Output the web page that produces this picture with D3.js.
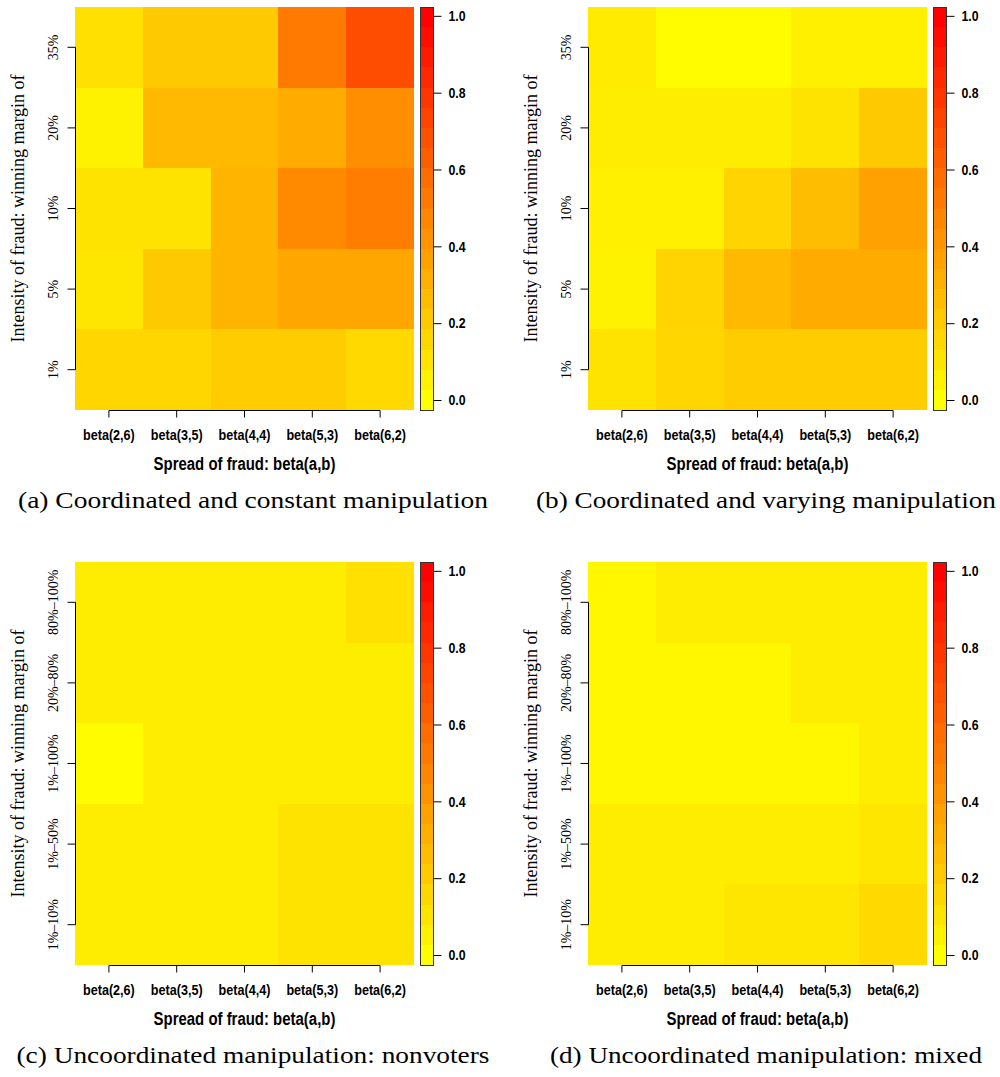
<!DOCTYPE html>
<html lang="en">
<head>
<meta charset="UTF-8">
<title>Fraud detection heatmaps</title>
<script src="https://cdn.jsdelivr.net/npm/d3@7"></script>
<style>
  body{ margin:0; padding:0; background:#fff; }
  .xAxis text, .cbAxis text{
    font-family:"Liberation Sans",Arial,sans-serif;
    font-weight:bold; font-size:15px; fill:#000;
  }
  .yAxis text{ font-family:"Liberation Serif",serif; font-size:14px; fill:#000; }
  .xLabel{ font-family:"Liberation Sans",Arial,sans-serif; font-weight:bold; font-size:18px; }
  .yLabel{ font-family:"Liberation Serif",serif; font-size:18px; }
  .caption{ font-family:"Liberation Serif",serif; font-size:23px; }
  .xAxis line, .yAxis line, .cbAxis line, .axisLine{ stroke:#000; stroke-width:1; }
</style>
</head>
<body>
<div id="chart"></div>
<script>

let xLabels = ["beta(2,6)", "beta(3,5)", "beta(4,4)", "beta(5,3)", "beta(6,2)"];
let yLabelsTop = ["1%", "5%", "10%", "20%", "35%"];
let yLabelsBottom = ["1%–10%", "1%–50%", "1%–100%", "20%–80%", "80%–100%"];

// rows go from the first y label (bottom) to the last (top), columns follow xLabels
let valuesA = [
  [0.16, 0.16, 0.20, 0.20, 0.15],
  [0.10, 0.21, 0.29, 0.35, 0.35],
  [0.11, 0.11, 0.29, 0.46, 0.51],
  [0.05, 0.27, 0.27, 0.33, 0.44],
  [0.12, 0.21, 0.21, 0.52, 0.70]
];
let valuesB = [
  [0.11, 0.16, 0.20, 0.20, 0.20],
  [0.05, 0.17, 0.27, 0.33, 0.33],
  [0.06, 0.06, 0.17, 0.26, 0.37],
  [0.07, 0.07, 0.07, 0.11, 0.21],
  [0.08, 0.01, 0.01, 0.06, 0.06]
];
let valuesC = [
  [0.07, 0.07, 0.07, 0.11, 0.11],
  [0.07, 0.07, 0.07, 0.11, 0.11],
  [0.01, 0.07, 0.07, 0.07, 0.07],
  [0.07, 0.07, 0.07, 0.07, 0.07],
  [0.07, 0.07, 0.07, 0.07, 0.12]
];
let valuesD = [
  [0.07, 0.07, 0.10, 0.10, 0.15],
  [0.07, 0.07, 0.07, 0.07, 0.10],
  [0.03, 0.03, 0.03, 0.03, 0.07],
  [0.03, 0.03, 0.03, 0.07, 0.07],
  [0.03, 0.07, 0.07, 0.07, 0.07]
];

let captions = [
  "(a) Coordinated and constant manipulation",
  "(b) Coordinated and varying manipulation",
  "(c) Uncoordinated manipulation: nonvoters",
  "(d) Uncoordinated manipulation: mixed"
];
let captionWidths = [470, 460, 473, 432];

let cbTicks = [0, 0.2, 0.4, 0.6, 0.8, 1.0];
let cbDomain = [-0.026, 1.023];
let cbBands = 20;

let W = 339, H = 403;

let svg = d3.select("#chart").append("svg")
    .attr("width", 1000)
    .attr("height", 1077);

let color = d3.scaleLinear().domain([0, 1]).range(["#ffff00", "#ff0000"]).clamp(true);

// squeeze the bold sans text to look like a narrow face
function narrow(sel, factor){
  sel.each(function(){
    let w = this.getComputedTextLength();
    d3.select(this).attr("textLength", w * factor).attr("lengthAdjust", "spacingAndGlyphs");
  });
}

function drawPanel(px, py, values, yLabels, caption, capWidth){
  let g = svg.append("g").attr("transform", "translate(" + px + "," + py + ")");

  let x = d3.scaleBand().domain(xLabels).range([0, W]);
  let y = d3.scaleBand().domain(yLabels).range([H, 0]);

  let cells = values.flatMap(function(row, i){
    return row.map(function(v, j){ return {col: xLabels[j], row: yLabels[i], v: v}; });
  });

  g.selectAll("rect.cell").data(cells).enter().append("rect")
    .attr("class", "cell")
    .attr("x", function(d){ return x(d.col); })
    .attr("y", function(d){ return y(d.row); })
    .attr("width", x.bandwidth())
    .attr("height", y.bandwidth())
    .attr("fill", function(d){ return color(d.v); })
    .attr("shape-rendering", "crispEdges");

  // x axis (R style: line only between first and last tick)
  let xAxis = g.append("g").attr("class", "xAxis").attr("transform", "translate(0," + (H + 0.5) + ")")
    .call(d3.axisBottom(x).tickSize(7).tickSizeOuter(0));
  xAxis.select(".domain").remove();
  xAxis.selectAll("text").attr("y", 29).attr("dy", 0).call(narrow, 0.84);
  xAxis.append("line").attr("class", "axisLine")
    .attr("x1", x(xLabels[0]) + x.bandwidth() / 2)
    .attr("x2", x(xLabels[xLabels.length - 1]) + x.bandwidth() / 2);

  // y axis
  let yAxis = g.append("g").attr("class", "yAxis").attr("transform", "translate(0.5,0)")
    .call(d3.axisLeft(y).tickSize(8).tickSizeOuter(0));
  yAxis.select(".domain").remove();
  yAxis.selectAll("text")
    .attr("x", 0).attr("y", -18).attr("dy", 0)
    .attr("text-anchor", "middle")
    .attr("transform", "rotate(-90)");
  yAxis.append("line").attr("class", "axisLine")
    .attr("y1", y(yLabels[0]) + y.bandwidth() / 2)
    .attr("y2", y(yLabels[yLabels.length - 1]) + y.bandwidth() / 2);

  g.append("text").attr("class", "xLabel")
    .attr("x", W / 2).attr("y", H + 60)
    .attr("text-anchor", "middle")
    .text("Spread of fraud: beta(a,b)")
    .call(narrow, 0.83);

  g.append("text").attr("class", "yLabel")
    .attr("transform", "translate(-51," + (H / 2) + ") rotate(-90)")
    .attr("text-anchor", "middle")
    .text("Intensity of fraud: winning margin of");

  g.append("text").attr("class", "caption")
    .attr("x", 178).attr("y", H + 98)
    .attr("text-anchor", "middle")
    .attr("textLength", capWidth)
    .attr("lengthAdjust", "spacingAndGlyphs")
    .text(caption);

  // colour key
  let cb = g.append("g").attr("transform", "translate(345,0)");
  let cy = d3.scaleLinear().domain(cbDomain).range([H, 0]);
  let step = (cbDomain[1] - cbDomain[0]) / cbBands;
  let bands = d3.range(cbBands).map(function(i){ return cbDomain[0] + i * step; });

  cb.selectAll("rect.band").data(bands).enter().append("rect")
    .attr("class", "band")
    .attr("x", 0)
    .attr("y", function(d){ return cy(d + step); })
    .attr("width", 13)
    .attr("height", function(d){ return cy(d) - cy(d + step); })
    .attr("fill", function(d){ return color(d + step / 2); })
    .attr("shape-rendering", "crispEdges");

  cb.append("rect")
    .attr("x", 0.5).attr("y", 0.5).attr("width", 13).attr("height", H)
    .attr("fill", "none").attr("stroke", "#333").attr("stroke-width", 1);

  let cbAxis = cb.append("g").attr("class", "cbAxis").attr("transform", "translate(13.5,0)")
    .call(d3.axisRight(cy).tickValues(cbTicks).tickFormat(d3.format(".1f")).tickSize(8).tickPadding(7));
  cbAxis.select(".domain").remove();
  cbAxis.selectAll("text").call(narrow, 0.82);
}

drawPanel(75, 7, valuesA, yLabelsTop, captions[0], captionWidths[0]);
drawPanel(588, 7, valuesB, yLabelsTop, captions[1], captionWidths[1]);
drawPanel(75, 562, valuesC, yLabelsBottom, captions[2], captionWidths[2]);
drawPanel(588, 562, valuesD, yLabelsBottom, captions[3], captionWidths[3]);

</script>
</body>
</html>
